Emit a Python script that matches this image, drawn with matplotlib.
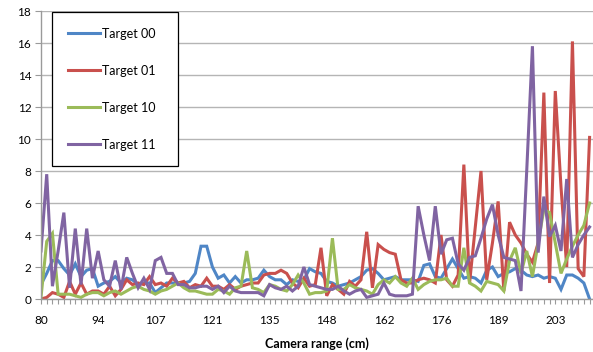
import matplotlib
matplotlib.use('Agg')
import matplotlib.pyplot as plt
from matplotlib.ticker import MultipleLocator, FixedLocator
import numpy as np

plt.rcParams['font.family'] = ['Lato', 'DejaVu Sans']

# camera range labels (every 10th category)
tick_labels = ['80', '94', '107', '121', '135', '148', '162', '176', '189', '203']

target_00 = [0.9, 1.6, 2.4, 2.4, 1.9, 1.5, 2.2, 1.4, 1.8, 1.9,
             0.8, 1.0, 1.1, 1.4, 1.0, 1.3, 1.2, 0.9, 1.0, 1.0,
             0.4, 0.7, 1.0, 1.0, 1.0, 1.0, 1.1, 1.6, 3.3, 3.3,
             2.0, 1.3, 1.5, 1.0, 1.4, 1.0, 1.2, 1.2, 1.3, 1.8,
             1.4, 1.2, 1.2, 0.9, 1.2, 1.1, 1.2, 1.9, 1.7, 1.6,
             1.1, 1.0, 0.8, 0.9, 1.0, 1.2, 1.4, 1.8, 1.9, 1.6,
             1.2, 1.3, 1.4, 1.2, 1.2, 1.2, 1.1, 2.1, 2.2, 1.4,
             1.3, 1.9, 2.5, 1.9, 1.3, 1.4, 1.3, 1.0, 1.8, 2.0,
             1.4, 1.6, 1.7, 1.9, 1.8, 1.5, 1.4, 1.5, 1.3, 1.4,
             1.3, 0.6, 1.5, 1.5, 1.3, 1.0, 0.0]

target_01 = [0.0, 0.1, 0.4, 0.3, 0.1, 1.1, 0.3, 1.0, 0.3, 0.5,
             0.5, 0.3, 0.8, 0.2, 0.6, 1.2, 0.9, 1.0, 0.9, 1.4,
             0.9, 1.0, 0.8, 1.3, 1.0, 1.1, 0.7, 0.9, 0.8, 1.3,
             0.8, 0.8, 0.6, 0.9, 0.6, 0.8, 0.9, 1.0, 1.0, 1.5,
             1.6, 1.6, 1.8, 1.6, 1.0, 0.7, 1.3, 0.8, 0.9, 3.2,
             0.2, 0.9, 0.6, 0.3, 1.1, 0.8, 1.2, 4.2, 0.7, 3.4,
             3.1, 2.9, 2.8, 1.2, 1.0, 1.0, 1.2, 1.3, 1.2, 1.0,
             4.0, 1.2, 0.8, 1.5, 8.4, 1.0, 4.5, 8.0, 1.2, 3.5,
             6.1, 0.5, 4.8, 4.0, 3.5, 2.8, 2.3, 3.5, 12.9, 1.0,
             13.0, 7.0, 2.0, 16.1, 1.9, 1.4, 10.1]

target_10 = [0.1, 3.6, 4.1, 0.3, 0.3, 0.3, 0.2, 0.1, 0.3, 0.4,
             0.4, 0.2, 0.4, 0.5, 0.3, 0.5, 0.7, 0.8, 0.6, 0.5,
             0.3, 0.5, 0.6, 0.8, 1.0, 0.7, 0.5, 0.5, 0.4, 0.3,
             0.3, 0.6, 0.5, 0.3, 0.7, 0.8, 3.0, 0.7, 0.6, 0.4,
             0.9, 0.8, 0.6, 0.5, 0.9, 1.5, 1.0, 0.3, 0.4, 0.4,
             0.5, 3.8, 0.6, 0.6, 0.9, 0.7, 0.6, 0.5, 0.3, 0.9,
             1.2, 1.0, 1.4, 1.0, 0.8, 1.3, 0.6, 0.9, 1.1, 1.2,
             1.2, 1.3, 0.8, 0.8, 3.2, 1.0, 0.8, 0.5, 1.1, 1.0,
             0.9, 0.5, 2.4, 3.2, 1.6, 3.0, 1.4, 3.5, 5.6, 5.4,
             3.5, 1.6, 2.5, 3.3, 4.0, 4.6, 6.0]

target_11 = [3.0, 7.8, 0.8, 3.0, 5.4, 0.7, 4.4, 0.9, 4.4, 1.3,
             3.0, 1.2, 0.8, 2.4, 0.6, 2.6, 1.6, 0.7, 1.3, 0.6,
             2.4, 2.6, 1.6, 1.6, 0.9, 0.9, 0.7, 0.7, 0.8, 0.8,
             0.6, 0.8, 0.4, 0.8, 0.5, 0.4, 0.4, 0.4, 0.4, 0.2,
             0.9, 0.7, 0.6, 0.8, 0.5, 0.8, 2.0, 0.9, 0.8, 0.7,
             0.6, 0.6, 0.8, 0.5, 0.3, 0.5, 0.6, 0.1, 0.2, 0.3,
             1.0, 0.3, 0.2, 0.2, 0.2, 0.3, 5.8, 4.0, 2.4, 5.8,
             2.8, 3.7, 3.8, 2.2, 1.8, 2.6, 2.7, 3.8, 5.0, 5.9,
             4.0, 2.6, 2.5, 2.4, 0.5, 8.0, 15.8, 2.9, 6.4, 3.9,
             4.6, 3.0, 7.5, 2.6, 3.4, 4.0, 4.5]

series = [('Target 00', target_00, '#4F86C6'),
          ('Target 01', target_01, '#C9504D'),
          ('Target 10', target_10, '#9BBB59'),
          ('Target 11', target_11, '#8064A2')]

fig = plt.figure(figsize=(5.93, 3.52), dpi=100)
ax = fig.add_axes([41 / 593, 1 - 299 / 352, 552 / 593, 288 / 352])

x = np.arange(len(target_00))
for name, vals, col in series:
    ax.plot(x, vals, color=col, lw=2.2, label=name, solid_joinstyle='miter')

ax.set_ylim(0, 18)
ax.set_xlim(0, 96.6)
ax.yaxis.set_major_locator(MultipleLocator(2))
ax.grid(axis='y', color='#b5b5b5', lw=1.0)
ax.set_axisbelow(True)

ax.xaxis.set_major_locator(FixedLocator(np.arange(0, 91, 10)))
ax.set_xticklabels(tick_labels)
ax.xaxis.set_minor_locator(MultipleLocator(1))
ax.tick_params(axis='x', which='both', length=3.5, color='#9a9a9a', width=0.8, labelsize=8.5, pad=8)
ax.tick_params(axis='y', length=4, color='#9a9a9a', width=0.8, labelsize=8.5, pad=3)

for s in ['top', 'right']:
    ax.spines[s].set_visible(False)
for s in ['left', 'bottom']:
    ax.spines[s].set_color('#9a9a9a')
    ax.spines[s].set_linewidth(1.0)

ax.set_xlabel('Camera range (cm)', fontsize=9, fontweight='bold', labelpad=8)

# legend box spans x 52..178 px, top at 12 px
leg = ax.legend(loc='upper left',
                bbox_to_anchor=(52 / 593, 1 - 162 / 352, 126 / 593, 150 / 352),
                bbox_transform=fig.transFigure, mode='expand', fontsize=9,
                frameon=True, fancybox=False, edgecolor='black', borderpad=1.25,
                labelspacing=2.0, handlelength=2.6, handletextpad=0.15,
                borderaxespad=0)
leg.get_frame().set_linewidth(0.9)
leg.get_frame().set_alpha(1)

plt.savefig('out.png', dpi=100)
